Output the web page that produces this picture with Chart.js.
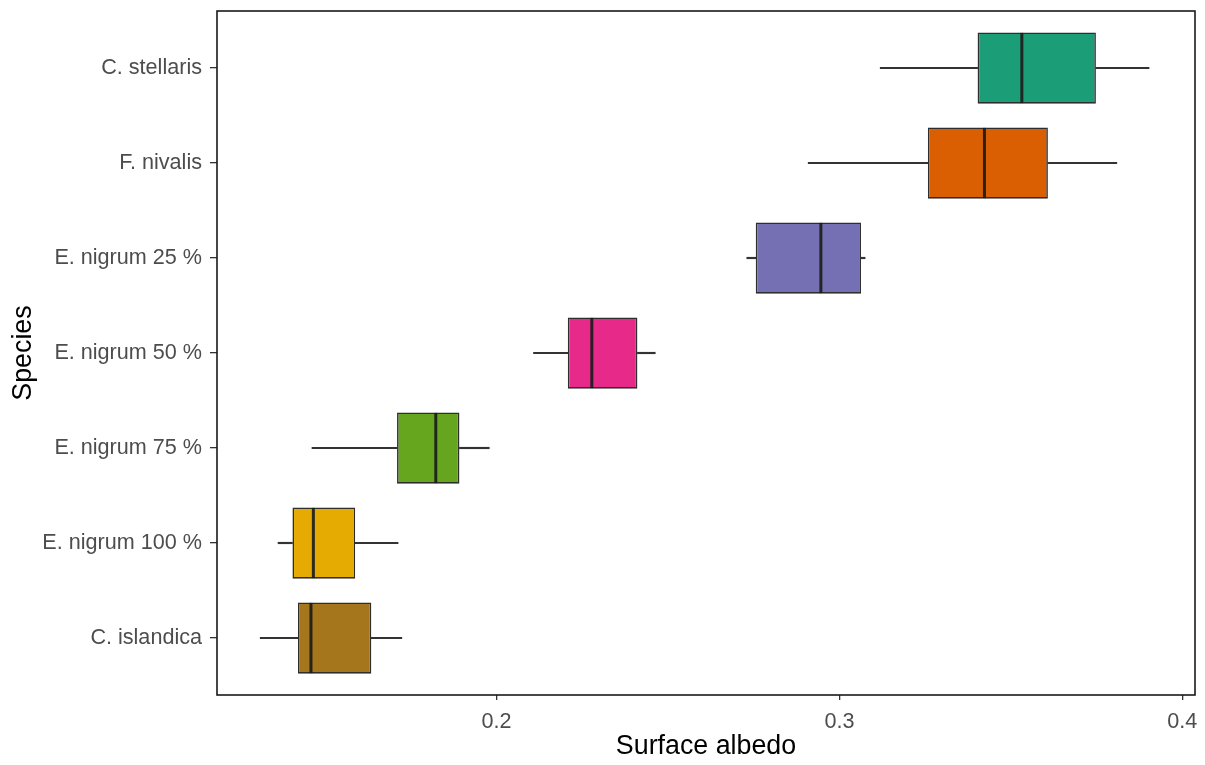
<!DOCTYPE html>
<html>
<head>
<meta charset="utf-8">
<script src="https://cdn.jsdelivr.net/npm/chart.js@4.4.1/dist/chart.umd.min.js"></script>
<style>
html,body{margin:0;padding:0;background:#fff;}
#wrap{width:1205px;height:765px;}
</style>
</head>
<body>
<div id="wrap"><canvas id="c" width="1205" height="765"></canvas></div>
<script>
const categories = ["C. stellaris","F. nivalis","E. nigrum 25 %","E. nigrum 50 %","E. nigrum 75 %","E. nigrum 100 %","C. islandica"];
const whiskerLow  = [0.3119, 0.2909, 0.2730, 0.2108, 0.1462, 0.1363, 0.1311];
const q1          = [0.3403, 0.3258, 0.2756, 0.2208, 0.1710, 0.1405, 0.1421];
const medians     = [0.3532, 0.3423, 0.2946, 0.2278, 0.1823, 0.1466, 0.1459];
const q3          = [0.3748, 0.3608, 0.3063, 0.2411, 0.1892, 0.1588, 0.1635];
const whiskerHigh = [0.3903, 0.3809, 0.3075, 0.2463, 0.1979, 0.1713, 0.1724];
const xTicks = [0.2, 0.3, 0.4];
const boxColors = ["#1B9E77","#D95F02","#7570B3","#E7298A","#66A61E","#E6AB02","#A6761D"];

const FONT = "'Liberation Sans', Arial, sans-serif";

const boxData = categories.map((c, i) => ({ x: [q1[i], q3[i]], y: i }));
const lowData = categories.map((c, i) => ({ x: [whiskerLow[i], q1[i]], y: i }));
const highData = categories.map((c, i) => ({ x: [q3[i], whiskerHigh[i]], y: i }));

const medianPlugin = {
  id: 'medianAndBorder',
  afterDatasetsDraw(chart) {
    const ctx = chart.ctx;
    const xs = chart.scales.x, ys = chart.scales.y;
    const meta = chart.getDatasetMeta(0);
    ctx.save();
    ctx.strokeStyle = 'rgba(28,28,28,0.92)';
    ctx.lineWidth = 3;
    medians.forEach((m, i) => {
      const el = meta.data[i];
      const h = el.height / 2;
      const px = xs.getPixelForValue(m);
      const py = ys.getPixelForValue(i);
      ctx.beginPath();
      ctx.moveTo(px, py - h + 0.5);
      ctx.lineTo(px, py + h - 0.5);
      ctx.stroke();
    });
    const a = chart.chartArea;
    ctx.strokeStyle = '#1a1a1a';
    ctx.lineWidth = 1.6;
    ctx.strokeRect(a.left, a.top, a.right - a.left, a.bottom - a.top);
    ctx.restore();
  }
};

new Chart(document.getElementById('c'), {
  type: 'bar',
  data: {
    datasets: [
      {
        label: 'box',
        data: boxData,
        backgroundColor: boxColors,
        borderColor: '#2e2e2e',
        borderWidth: 1.6,
        borderSkipped: false,
        barPercentage: 0.75,
        categoryPercentage: 1,
        grouped: false
      },
      {
        label: 'low',
        data: lowData,
        backgroundColor: '#333333',
        borderWidth: 0,
        barThickness: 1.5,
        grouped: false
      },
      {
        label: 'high',
        data: highData,
        backgroundColor: '#333333',
        borderWidth: 0,
        barThickness: 1.5,
        grouped: false
      }
    ]
  },
  options: {
    indexAxis: 'y',
    responsive: false,
    animation: false,
    layout: { padding: { top: 11, right: 10, left: 0, bottom: 0 } },
    plugins: { legend: { display: false }, tooltip: { enabled: false } },
    scales: {
      x: {
        type: 'linear',
        min: 0.1185,
        max: 0.4037,
        afterBuildTicks: (s) => { s.ticks = xTicks.map(v => ({ value: v })); },
        afterFit: (s) => { s.height = 70; s.paddingLeft = 0; s.paddingRight = 0; },
        grid: { display: true, drawOnChartArea: false, drawTicks: true, tickLength: 5, color: '#333333', lineWidth: 1.3 },
        border: { display: false },
        ticks: {
          font: { family: FONT, size: 21.6 },
          color: '#4d4d4d',
          padding: 9,
          callback: (v) => String(v)
        },
        title: {
          display: true,
          text: 'Surface albedo',
          font: { family: FONT, size: 26.8 },
          color: '#000000',
          padding: { top: 0, bottom: 2 }
        }
      },
      y: {
        type: 'linear',
        reverse: true,
        offset: false,
        min: -0.6,
        max: 6.6,
        afterBuildTicks: (s) => { s.ticks = categories.map((c, i) => ({ value: i })); },
        afterFit: (s) => { s.width = 217; s.paddingTop = 0; s.paddingBottom = 0; },
        grid: { display: true, offset: false, drawOnChartArea: false, drawTicks: true, tickLength: 7, color: '#333333', lineWidth: 1.3 },
        border: { display: false },
        ticks: {
          font: { family: FONT, size: 21.6 },
          color: '#4d4d4d',
          padding: 8,
          autoSkip: false,
          callback: (v) => categories[v]
        },
        title: {
          display: true,
          text: 'Species',
          font: { family: FONT, size: 26.8 },
          color: '#000000',
          padding: { top: 8, bottom: 0 }
        }
      }
    }
  },
  plugins: [medianPlugin]
});
</script>
</body>
</html>
